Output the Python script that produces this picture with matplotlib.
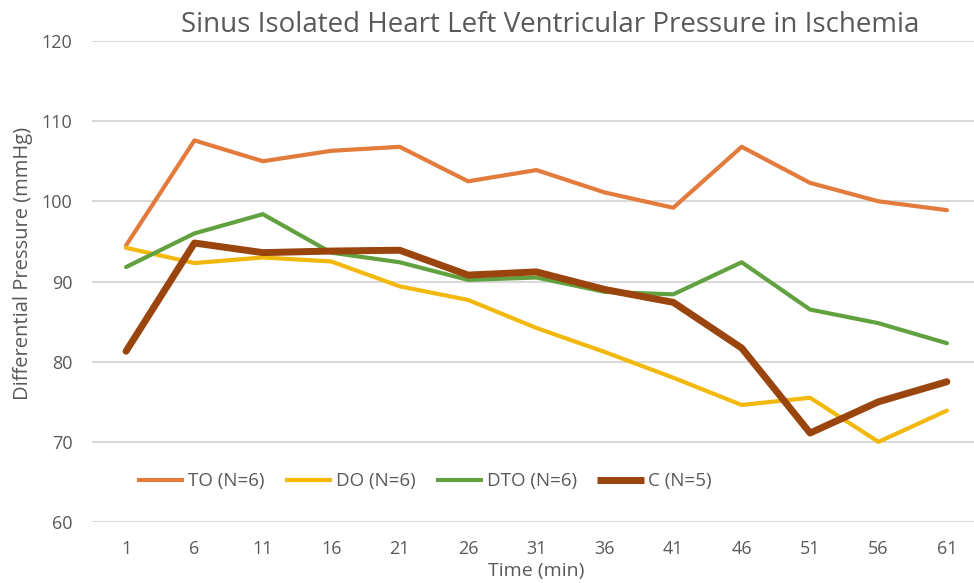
import matplotlib.pyplot as plt
import matplotlib

matplotlib.rcParams['font.family'] = ['Open Sans', 'DejaVu Sans']

# Time points (min) and left ventricular differential pressure (mmHg)
times = ["1", "6", "11", "16", "21", "26", "31", "36", "41", "46", "51", "56", "61"]
to_vals = [94.5, 107.6, 105.0, 106.3, 106.8, 102.5, 103.9, 101.1, 99.2, 106.8, 102.3, 100.0, 98.9]
do_vals = [94.2, 92.3, 93.0, 92.5, 89.4, 87.7, 84.2, 81.2, 78.0, 74.6, 75.5, 70.0, 73.9]
dto_vals = [91.8, 96.0, 98.4, 93.6, 92.4, 90.2, 90.5, 88.7, 88.4, 92.4, 86.5, 84.8, 82.3]
c_vals = [81.3, 94.8, 93.6, 93.8, 93.9, 90.8, 91.2, 89.0, 87.4, 81.7, 71.1, 75.0, 77.5]

labels = ["TO (N=6)", "DO (N=6)", "DTO (N=6)", "C (N=5)"]
colors = ["#E27B3C", "#F2B90C", "#62A140", "#9A440E"]
widths = [3.0, 3.0, 3.0, 5.0]
series = [to_vals, do_vals, dto_vals, c_vals]

text_color = "#595959"

fig = plt.figure(figsize=(9.74, 5.83), dpi=100)
ax = fig.add_axes([0.0943, 0.1046, 0.913, 0.8251])

x = list(range(len(times)))
for vals, lab, col, lw in zip(series, labels, colors, widths):
    ax.plot(x, vals, color=col, linewidth=lw, label=lab, solid_capstyle='round',
            solid_joinstyle='round')

ax.set_xlim(-0.5, len(times) - 0.5)
ax.set_ylim(60, 120)
ax.set_yticks(range(60, 121, 10))
ax.set_xticks(x, times)
ax.grid(axis='y', color='#D9D9D9', linewidth=1.5)
ax.set_axisbelow(True)
for s in ax.spines.values():
    s.set_visible(False)
ax.tick_params(length=0, labelsize=13, labelcolor=text_color)
ax.tick_params(axis='x', pad=13)
ax.tick_params(axis='y', pad=14)

ax.set_xlabel("Time (min)", fontsize=14, color=text_color, labelpad=3)
ax.set_ylabel("Differential Pressure (mmHg)", fontsize=14.5, color=text_color)
ax.yaxis.set_label_coords(-0.066, 0.538)
fig.text(0.565, 0.957, "Sinus Isolated Heart Left Ventricular Pressure in Ischemia",
         ha='center', va='center', fontsize=20, color=text_color)

leg = ax.legend(loc='center left', bbox_to_anchor=(0.051, 0.085), ncol=4, frameon=False,
                fontsize=13.5, handlelength=2.5, handletextpad=0.2, columnspacing=1.1,
                borderpad=0, borderaxespad=0)
for t in leg.get_texts():
    t.set_color(text_color)
for h in leg.get_lines():
    h.set_solid_capstyle('butt')

fig.savefig("out.png", dpi=100)
